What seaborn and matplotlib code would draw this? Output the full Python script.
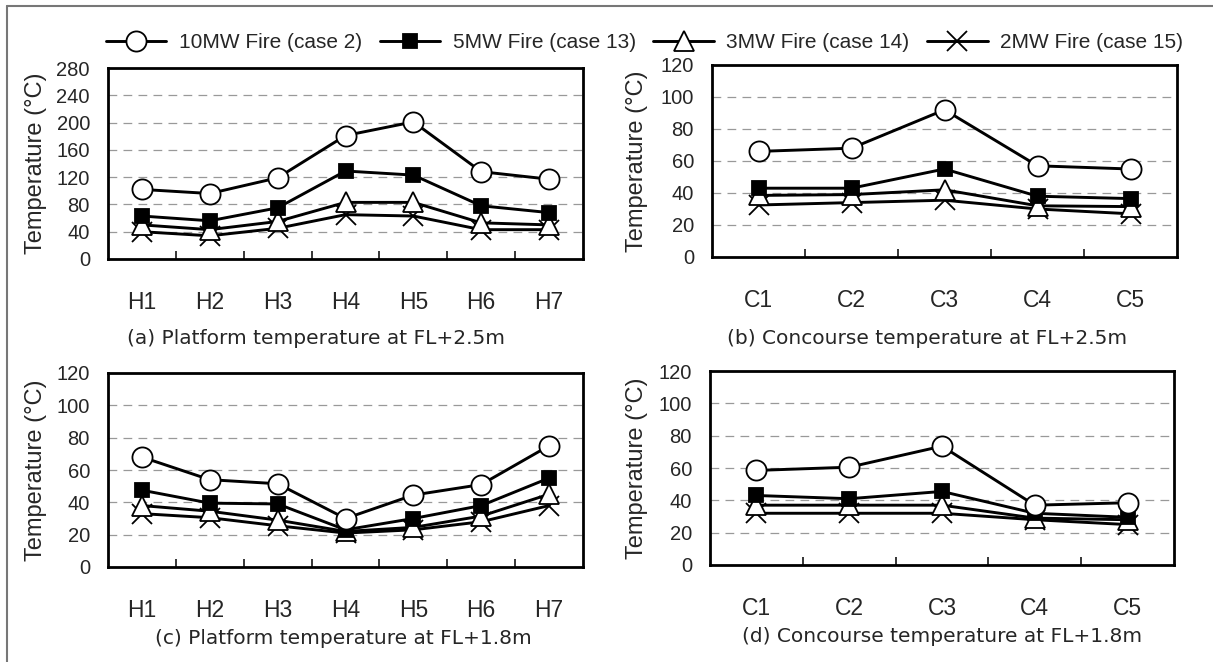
import matplotlib
matplotlib.use("Agg")
import matplotlib.pyplot as plt
from matplotlib.lines import Line2D
from matplotlib.ticker import FixedLocator, MultipleLocator
import seaborn as sns
import pandas as pd
import numpy as np

# ---------------- data ----------------
platform_pts = ["H1", "H2", "H3", "H4", "H5", "H6", "H7"]
concourse_pts = ["C1", "C2", "C3", "C4", "C5"]
series_names = ["10MW Fire (case 2)", "5MW Fire (case 13)", "3MW Fire (case 14)", "2MW Fire (case 15)"]

# (a) Platform temperature at FL+2.5m
a_10mw = [102, 96, 119, 181, 201, 128, 117]
a_5mw = [63, 56, 75, 129, 123, 78, 68]
a_3mw = [50, 43, 55, 83, 83, 53, 50]
a_2mw = [40, 34, 45, 65, 63, 43, 43]

# (b) Concourse temperature at FL+2.5m
b_10mw = [66, 68, 92, 57, 55]
b_5mw = [43, 43, 55, 38, 36.5]
b_3mw = [38.5, 39, 42, 32, 31.5]
b_2mw = [32.5, 34, 35.5, 30, 27]

# (c) Platform temperature at FL+1.8m
c_10mw = [68, 54, 51.5, 30, 44.5, 51, 75]
c_5mw = [47.5, 39.5, 39, 23, 30, 38, 55]
c_3mw = [38, 34.5, 29, 22, 24.5, 31.5, 45]
c_2mw = [33, 30.5, 25.5, 21, 23, 28, 38]

# (d) Concourse temperature at FL+1.8m
d_10mw = [58.5, 60.5, 73.5, 37, 38.5]
d_5mw = [43, 41, 45.5, 32, 29.5]
d_3mw = [37, 37, 37, 29, 28]
d_2mw = [32, 32, 32, 28, 25]

captions = ["(a) Platform temperature at FL+2.5m",
            "(b) Concourse temperature at FL+2.5m",
            "(c) Platform temperature at FL+1.8m",
            "(d) Concourse temperature at FL+1.8m"]
ylabel = "Temperature (°C)"

# ---------------- style ----------------
sns.set_style("white")
plt.rcParams["font.family"] = ["Liberation Sans", "DejaVu Sans"]

W, H = 1213, 662
fig = plt.figure(figsize=(W / 100, H / 100), dpi=100)

def frac(l, t, r, b):
    return [l / W, 1 - b / H, (r - l) / W, (b - t) / H]

panels = [
    dict(rect=frac(108, 68, 583, 259), cats=platform_pts,
         vals=[a_10mw, a_5mw, a_3mw, a_2mw], ymax=280, step=40,
         cap=(316, 338), ylab=(36,)),
    dict(rect=frac(712, 65, 1177, 257), cats=concourse_pts,
         vals=[b_10mw, b_5mw, b_3mw, b_2mw], ymax=120, step=20,
         cap=(927, 338), ylab=(637,)),
    dict(rect=frac(108, 373, 583, 567), cats=platform_pts,
         vals=[c_10mw, c_5mw, c_3mw, c_2mw], ymax=120, step=20,
         cap=(343, 638), ylab=(36,)),
    dict(rect=frac(710, 371, 1174, 565), cats=concourse_pts,
         vals=[d_10mw, d_5mw, d_3mw, d_2mw], ymax=120, step=20,
         cap=(942, 637), ylab=(637,)),
]

markers = ["o", "s", "^", "x"]
mfcs = ["white", "black", "white", "black"]
msizes = [14.5, 10, 15, 15]

legend_handles = None
for i, p in enumerate(panels):
    ax = fig.add_axes(p["rect"])
    for k, name in enumerate(series_names):
        df = pd.DataFrame({"pos": p["cats"], "T": p["vals"][k]})
        sns.lineplot(data=df, x="pos", y="T", ax=ax, sort=False, errorbar=None,
                     color="black", linewidth=2.1, marker=markers[k],
                     markersize=msizes[k], markerfacecolor=mfcs[k],
                     markeredgecolor="black", markeredgewidth=1.3,
                     label=name, legend=False, zorder=3 + (4 - k))
    n = len(p["cats"])
    ax.set_xlim(-0.5, n - 0.5)
    ax.set_ylim(0, p["ymax"])
    ax.yaxis.set_major_locator(MultipleLocator(p["step"]))
    ax.xaxis.set_minor_locator(FixedLocator(np.arange(0.5, n - 1, 1.0)))
    ax.tick_params(axis="x", which="major", length=0, pad=23, labelsize=16.5)
    ax.tick_params(axis="x", which="minor", direction="in", length=6, width=1.3, bottom=True)
    ax.tick_params(axis="y", which="major", length=0, pad=13, labelsize=14.5)
    ax.grid(axis="y", color="#999999", linestyle=(0, (7, 5)), linewidth=0.9)
    ax.grid(axis="x", visible=False)
    for s in ax.spines.values():
        s.set_visible(True)
        s.set_color("black")
        s.set_linewidth(2)
    ax.set_xlabel("")
    ax.set_ylabel("")
    # ylabel
    fig.text(p["ylab"][0] / W, p["rect"][1] + p["rect"][3] / 2, ylabel,
             rotation=90, ha="center", va="center", fontsize=17)
    # caption
    fig.text(p["cap"][0] / W, 1 - p["cap"][1] / H, captions[i],
             ha="center", va="center", fontsize=14.5, family="DejaVu Sans")
    if legend_handles is None:
        legend_handles = ax.lines[:4]

fig.legend(handles=legend_handles, labels=series_names, loc="center",
           bbox_to_anchor=(644.5 / W, 1 - 43 / H), ncol=4, frameon=False,
           fontsize=15, handlelength=2.9, handletextpad=0.6,
           columnspacing=0.85, borderpad=0, numpoints=1)

# outer frame lines (left and top)
fig.add_artist(Line2D([6.5 / W, 6.5 / W], [0, 1 - 6 / H], transform=fig.transFigure,
                      color="#777777", linewidth=1.5))
fig.add_artist(Line2D([6.5 / W, 1], [1 - 6 / H, 1 - 6 / H], transform=fig.transFigure,
                      color="#777777", linewidth=1.5))

fig.savefig("out.png", dpi=100)
